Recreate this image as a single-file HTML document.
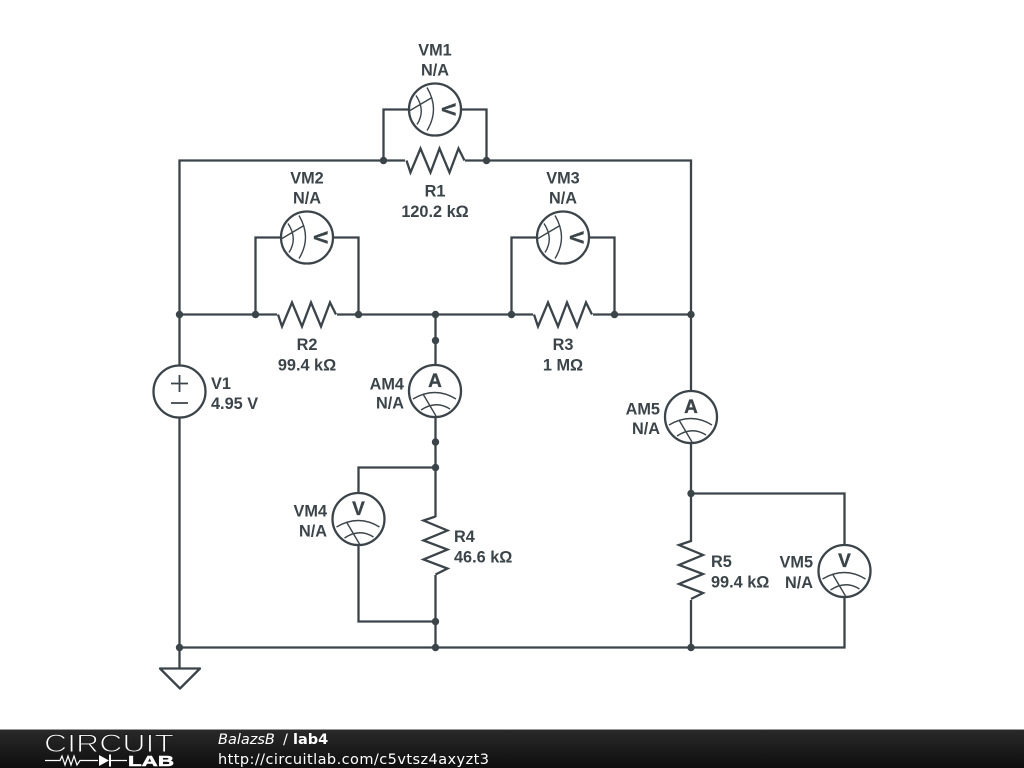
<!DOCTYPE html>
<html><head><meta charset="utf-8"><style>
html,body{margin:0;padding:0;background:#fff;width:1024px;height:768px;overflow:hidden}
svg{display:block}
.w{fill:none;stroke:#3b4449;stroke-width:2.3;stroke-linejoin:miter}
.m{fill:none;stroke:#3b4449;stroke-width:1.4}
text{font-family:"Liberation Sans",sans-serif;font-weight:bold;font-size:16.3px;fill:#3b4449}
.e{text-anchor:end}.c{text-anchor:middle}
.l{font-size:19px;stroke:#3b4449;stroke-width:.35}
.f{font-family:"DejaVu Sans",sans-serif;font-weight:normal;fill:#fff;font-size:14.5px}
</style></head><body>
<svg width="1024" height="768" viewBox="0 0 1024 768" xmlns="http://www.w3.org/2000/svg">
<defs>
<linearGradient id="g" x1="0" y1="0" x2="0" y2="1"><stop offset="0" stop-color="#2a2a2a"/><stop offset="1" stop-color="#0e0e0e"/></linearGradient>
<g id="meter">
<circle r="26" fill="#fff" stroke="#3b4449" stroke-width="2.3"/>
<path class="m" d="M-22 8Q0 -5 21 8M-14 19Q1 9 15 18M-12 3L1 25"/>
</g>
<path id="res" class="w" d="M-29 0L-25 12L-15 -12L-5 12L4 -12L14 12L23 -12L29 0"/>
</defs>
<!-- wires -->
<path class="w" d="M179.500 368V160.500H407M464 160.500H691V391M691 443V647.500H179.500V668"/>
<path class="w" d="M179.500 314.500H278M336 314.500H534M592 314.500H691"/>
<path class="w" d="M179.500 416V647.500"/>
<path class="w" d="M383.500 160.500V109.500H410M460 109.500H486.500V160.500"/>
<path class="w" d="M255.500 314.500V237.500H282M332 237.500H358.500V314.500"/>
<path class="w" d="M511.500 314.500V237.500H538M588 237.500H614.500V314.500"/>
<path class="w" d="M435.500 314.500V366M435.500 416V517M435.500 575V647.500"/>
<path class="w" d="M435.500 467.500H358.500V494M358.500 544V621.500H435.500"/>
<path class="w" d="M691 493.500H844.500V545M844.500 597V647.500H691"/>
<path class="w" d="M160 668.500H200L180 688.500Z" style="stroke-linejoin:round"/>
<!-- resistors -->
<rect x="405" y="150" width="60" height="22" fill="#fff"/>
<rect x="277" y="304" width="60" height="22" fill="#fff"/>
<rect x="533" y="304" width="60" height="22" fill="#fff"/>
<use href="#res" transform="translate(435.500,160.500)"/>
<use href="#res" transform="translate(307,314.500)"/>
<use href="#res" transform="translate(563,314.500)"/>
<rect x="425" y="517" width="22" height="58" fill="#fff"/>
<rect x="680" y="542" width="22" height="58" fill="#fff"/>
<use href="#res" transform="translate(435.500,545.500) rotate(90)"/>
<use href="#res" transform="translate(691,570) rotate(90)"/>
<!-- meters -->
<use href="#meter" transform="translate(435,109.500) rotate(90)"/>
<use href="#meter" transform="translate(307,237.500) rotate(90)"/>
<use href="#meter" transform="translate(563,237.500) rotate(90)"/>
<use href="#meter" transform="translate(435,391)"/>
<use href="#meter" transform="translate(691,417)"/>
<use href="#meter" transform="translate(358.500,519)"/>
<use href="#meter" transform="translate(844.500,571)"/>
<!-- meter letters -->
<text class="c l" transform="translate(442,109.500) rotate(90)">V</text>
<text class="c l" transform="translate(314,237.500) rotate(90)">V</text>
<text class="c l" transform="translate(570,237.500) rotate(90)">V</text>
<text class="c l" x="435" y="387">A</text>
<text class="c l" x="691" y="413">A</text>
<text class="c l" x="358.500" y="515">V</text>
<text class="c l" x="844.500" y="567">V</text>
<!-- source -->
<circle cx="179.500" cy="391.500" r="26" fill="#fff" stroke="#3b4449" stroke-width="2.3"/>
<path class="w" style="stroke-width:1.8" d="M171 383.500H188M179.500 375V392M171 403H188"/>
<!-- junctions -->
<g fill="#3b4449">
<circle cx="383.500" cy="160.500" r="3.700"/><circle cx="486.500" cy="160.500" r="3.700"/>
<circle cx="179.500" cy="314.500" r="3.700"/><circle cx="255.500" cy="314.500" r="3.700"/><circle cx="358.500" cy="314.500" r="3.700"/>
<circle cx="435.500" cy="314.500" r="3.700"/><circle cx="511.500" cy="314.500" r="3.700"/><circle cx="614.500" cy="314.500" r="3.700"/><circle cx="691" cy="314.500" r="3.700"/>
<circle cx="435.500" cy="340.500" r="3.700"/><circle cx="435.500" cy="442" r="3.700"/><circle cx="435.500" cy="467.500" r="3.700"/>
<circle cx="435.500" cy="621.500" r="3.700"/><circle cx="435.500" cy="647.500" r="3.700"/>
<circle cx="179.500" cy="647.500" r="3.700"/><circle cx="691" cy="647.500" r="3.700"/><circle cx="691" cy="493.500" r="3.700"/>
</g>
<!-- labels -->
<text class="c" x="435" y="55.500">VM1</text><text class="c" x="435" y="75.500">N/A</text>
<text class="c" x="435" y="196.500">R1</text><text class="c" x="435" y="217">120.2 kΩ</text>
<text class="c" x="307" y="183.500">VM2</text><text class="c" x="307" y="203.500">N/A</text>
<text class="c" x="563" y="183.500">VM3</text><text class="c" x="563" y="203.500">N/A</text>
<text class="c" x="307" y="350">R2</text><text class="c" x="307" y="370.500">99.4 kΩ</text>
<text class="c" x="563" y="350">R3</text><text class="c" x="563" y="370.500">1 MΩ</text>
<text x="211" y="389">V1</text><text x="211" y="409">4.95 V</text>
<text class="e" x="404" y="389.500">AM4</text><text class="e" x="404" y="408.500">N/A</text>
<text class="e" x="660" y="414.500">AM5</text><text class="e" x="660" y="434">N/A</text>
<text class="e" x="327" y="516.500">VM4</text><text class="e" x="327" y="536.500">N/A</text>
<text x="454" y="542">R4</text><text x="454" y="562.500">46.6 kΩ</text>
<text x="711" y="567">R5</text><text x="711" y="587.500">99.4 kΩ</text>
<text class="e" x="813" y="567.500">VM5</text><text class="e" x="813" y="588">N/A</text>
<!-- footer -->
<rect x="0" y="729" width="1024" height="39" fill="url(#g)"/>
<rect x="0" y="729" width="1024" height="1" fill="#999"/>
<text x="44" y="752" textLength="130" lengthAdjust="spacingAndGlyphs" style="font-size:25px;font-weight:normal;fill:#fff;stroke:#1e1e1e;stroke-width:1">CIRCUIT</text>
<path d="M45 760.500H60L62 756L65 765L68 756L71 765L74 756L77 765L80 760.500H98M110 760.500H127" fill="none" stroke="#fff" stroke-width="1.2"/>
<path d="M99 755V766L109 760.500Z" fill="#fff"/>
<path d="M110 754.500V766.500" stroke="#fff" stroke-width="2"/>
<text x="128" y="766" textLength="46" lengthAdjust="spacingAndGlyphs" style="font-size:14.5px;font-weight:bold;fill:#fff;stroke:#fff;stroke-width:.5">LAB</text>
<text class="f" x="218" y="744" style="font-style:italic">BalazsB</text>
<text class="f" x="283" y="744">/</text>
<text class="f" x="293" y="744" style="font-weight:bold">lab4</text>
<text class="f" x="218" y="764" textLength="271">http://circuitlab.com/c5vtsz4axyzt3</text>
</svg>
</body></html>
